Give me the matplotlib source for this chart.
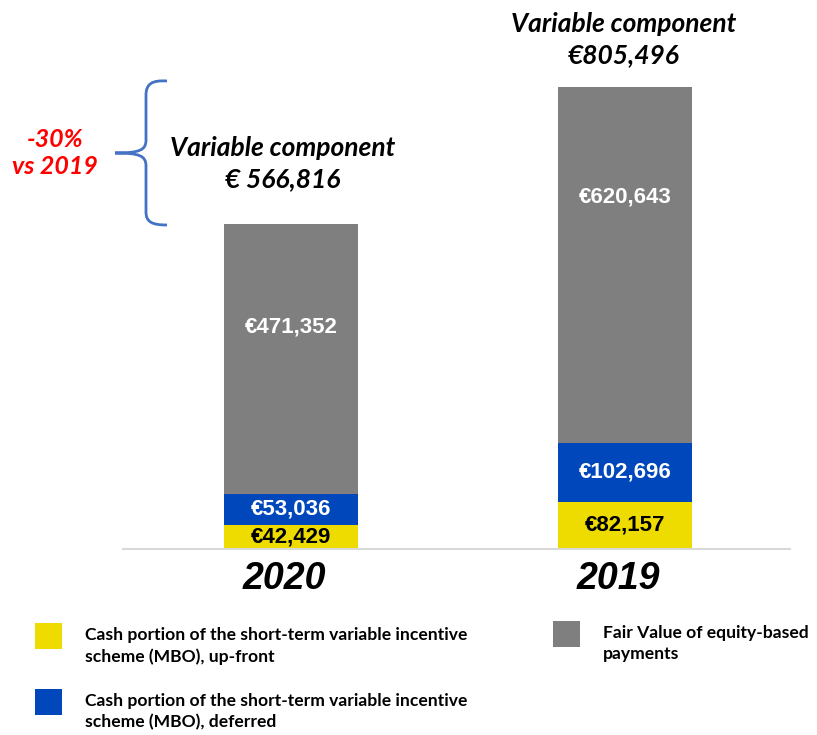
import matplotlib
matplotlib.use("Agg")
import matplotlib.pyplot as plt
from matplotlib import font_manager
from matplotlib.patches import Rectangle
from matplotlib.path import Path
from matplotlib.patches import PathPatch

years = ["2020", "2019"]
upfront = [42429, 82157]
deferred = [53036, 102696]
fair_value = [471352, 620643]
totals = [566816, 805496]
total_labels = ["Variable component\n€ 566,816", "Variable component\n€805,496"]
legend_labels = [
    "Cash portion of the short-term variable incentive\nscheme (MBO), up-front",
    "Cash portion of the short-term variable incentive\nscheme (MBO), deferred",
    "Fair Value of equity-based\npayments",
]
change_label = "-30%\nvs 2019"

YELLOW = "#EEDC00"
BLUE = "#0047BB"
GRAY = "#7F7F7F"

names = {f.name for f in font_manager.fontManager.ttflist}
NARROW = "Liberation Sans Narrow" if "Liberation Sans Narrow" in names else "Liberation Sans"
CAL = "Lato" if "Lato" in names else "DejaVu Sans"

W, H = 817, 735
fig = plt.figure(figsize=(W / 100, H / 100), dpi=100)
fig.patch.set_facecolor("white")

left, right, base = 123, 790, 549
ymax = 900000
scale = 462 / 805496
top = base - ymax * scale
ax = fig.add_axes([left / W, 1 - base / H, (right - left) / W, (base - top) / H])
ax.set_xlim(-0.503, 1.494)
ax.set_ylim(0, ymax)
for s in ["top", "right", "left"]:
    ax.spines[s].set_visible(False)
ax.spines["bottom"].set_color("#D9D9D9")
ax.spines["bottom"].set_linewidth(1.5)
ax.set_yticks([])
ax.set_xticks([])

x = [0, 1]
bw = 0.40
b1 = ax.bar(x, upfront, bw, color=YELLOW, label=legend_labels[0])
b2 = ax.bar(x, deferred, bw, bottom=upfront, color=BLUE, label=legend_labels[1])
bottoms3 = [u + d for u, d in zip(upfront, deferred)]
b3 = ax.bar(x, fair_value, bw, bottom=bottoms3, color=GRAY, label=legend_labels[2])

lab_font = dict(family=NARROW, weight="bold", fontsize=16, ha="center", va="center")
for i in range(2):
    ax.text(x[i], upfront[i] / 2, f"€{upfront[i]:,}", color="black", **lab_font)
    ax.text(x[i], upfront[i] + deferred[i] / 2, f"€{deferred[i]:,}", color="white", **lab_font)
gray_frac = [0.62, 0.69]
for i in range(2):
    ax.text(x[i], bottoms3[i] + fair_value[i] * gray_frac[i], f"€{fair_value[i]:,}",
            color="white", **lab_font)

# year labels
for i in range(2):
    ax.text(x[i] - 0.02, -52000, years[i], family=NARROW, weight="bold", style="italic",
            fontsize=27, ha="center", va="center", color="black")

# total annotations
ann_font = dict(family=CAL, weight="bold", style="italic", fontsize=19, ha="center",
                va="center", linespacing=1.35, color="black")
fig.text(283 / W, 1 - 164 / H, total_labels[0], **ann_font)
fig.text(624 / W, 1 - 40 / H, total_labels[1], **ann_font)

fig.text(55 / W, 1 - 153 / H, change_label, family=CAL, weight="bold", style="italic",
         fontsize=18, ha="center", va="center", color="#FF0000", linespacing=1.25)

# brace (figure pixel coordinates)
def P(px, py):
    return (px / W, 1 - py / H)

verts = [P(167, 81), P(152, 80), P(146, 84), P(146, 95),
         P(146, 140),
         P(146, 150), P(140, 153), P(115, 153),
         P(140, 153), P(146, 156), P(146, 166),
         P(146, 212),
         P(146, 222), P(152, 225), P(167, 225)]
codes = [Path.MOVETO, Path.CURVE4, Path.CURVE4, Path.CURVE4,
         Path.LINETO,
         Path.CURVE4, Path.CURVE4, Path.CURVE4,
         Path.CURVE4, Path.CURVE4, Path.CURVE4,
         Path.LINETO,
         Path.CURVE4, Path.CURVE4, Path.CURVE4]
fig.add_artist(PathPatch(Path(verts, codes), transform=fig.transFigure, fill=False,
                         edgecolor="#4472C4", linewidth=2))

# legend
handles = [b1, b2, b3]
boxes = [(35, 623), (35, 689), (553, 621)]
for h, (bx, by), lab in zip(handles, boxes, legend_labels):
    col = h.patches[0].get_facecolor()
    fig.add_artist(Rectangle((bx / W, 1 - (by + 26) / H), 27 / W, 26 / H,
                             transform=fig.transFigure, facecolor=col, edgecolor="none"))
    fig.text((bx + 50) / W, 1 - (by + 4) / H, lab, family=CAL, weight="bold",
             fontsize=12.6, ha="left", va="top", linespacing=1.4, color="black")

fig.savefig("out.png", dpi=100)
